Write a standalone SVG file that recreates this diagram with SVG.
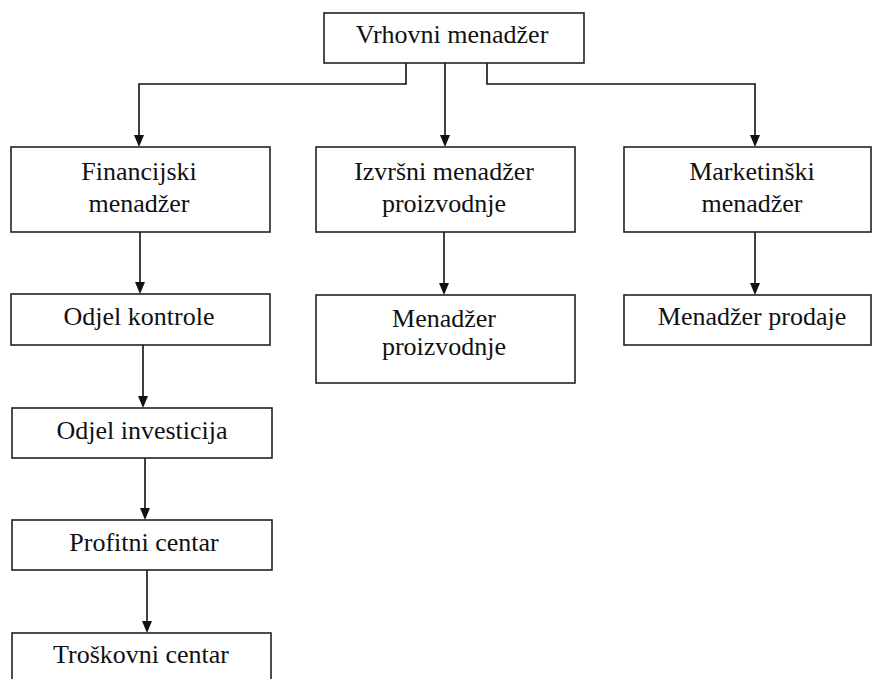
<svg xmlns="http://www.w3.org/2000/svg" width="872" height="679" viewBox="0 0 872 679">
<style>
.box{fill:#fff;stroke:#222;stroke-width:1.6}
.lbl{font-family:"Liberation Serif","Times New Roman",serif;font-size:26px;fill:#111;text-anchor:middle}
.con{fill:none;stroke:#111;stroke-width:1.6}
.ah{fill:#111}
</style>
<rect width="872" height="679" fill="#fff"/>
<g id="connectors">
<path class="con" d="M406,63 V84 H139 V140"/>
<path class="con" d="M445,63 V140"/>
<path class="con" d="M487,63 V84 H755 V140"/>
<path class="con" d="M140,232 V288"/>
<path class="con" d="M444,232 V289"/>
<path class="con" d="M755,232 V289"/>
<path class="con" d="M143,345 V402"/>
<path class="con" d="M145,458 V514"/>
<path class="con" d="M147,570 V627"/>
<path class="ah" d="M134,135 L144,135 L139,147 Z"/>
<path class="ah" d="M440,135 L450,135 L445,147 Z"/>
<path class="ah" d="M750,135 L760,135 L755,147 Z"/>
<path class="ah" d="M135,282 L145,282 L140,294 Z"/>
<path class="ah" d="M439,283 L449,283 L444,295 Z"/>
<path class="ah" d="M750,283 L760,283 L755,295 Z"/>
<path class="ah" d="M138,396 L148,396 L143,408 Z"/>
<path class="ah" d="M140,508 L150,508 L145,520 Z"/>
<path class="ah" d="M142,621 L152,621 L147,633 Z"/>
</g>
<g id="vrhovni"><rect class="box" x="324" y="13" width="260" height="50"/><text class="lbl" x="452" y="43">Vrhovni menadžer</text></g>
<g id="financijski"><rect class="box" x="11" y="147" width="259" height="85"/><text class="lbl" x="139" y="180">Financijski</text><text class="lbl" x="139" y="212">menadžer</text></g>
<g id="izvrsni"><rect class="box" x="316" y="147" width="259" height="85"/><text class="lbl" x="444" y="180">Izvršni menadžer</text><text class="lbl" x="444" y="212">proizvodnje</text></g>
<g id="marketinski"><rect class="box" x="624" y="147" width="247" height="85"/><text class="lbl" x="752" y="180">Marketinški</text><text class="lbl" x="752" y="212">menadžer</text></g>
<g id="odjel-kontrole"><rect class="box" x="11" y="294" width="259" height="51"/><text class="lbl" x="139" y="325">Odjel kontrole</text></g>
<g id="menadzer-proizvodnje"><rect class="box" x="316" y="295" width="259" height="88"/><text class="lbl" x="444" y="327">Menadžer</text><text class="lbl" x="444" y="355">proizvodnje</text></g>
<g id="menadzer-prodaje"><rect class="box" x="624" y="295" width="247" height="50"/><text class="lbl" x="752" y="325">Menadžer prodaje</text></g>
<g id="odjel-investicija"><rect class="box" x="12" y="408" width="260" height="50"/><text class="lbl" x="142" y="439">Odjel investicija</text></g>
<g id="profitni-centar"><rect class="box" x="12" y="520" width="260" height="50"/><text class="lbl" x="144" y="551">Profitni centar</text></g>
<g id="troskovni-centar"><rect class="box" x="12" y="633" width="259" height="60"/><text class="lbl" x="141" y="663">Troškovni centar</text></g>
</svg>
